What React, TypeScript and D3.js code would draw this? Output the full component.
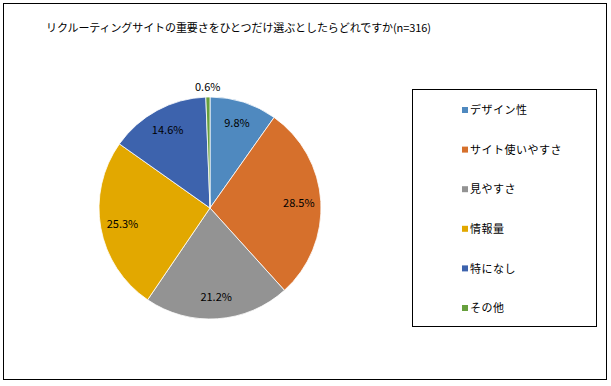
import React, { useEffect, useRef } from "react";
import * as d3 from "d3";

const categories = ["デザイン性", "サイト使いやすさ", "見やすさ", "情報量", "特になし", "その他"];
const values = [9.8, 28.5, 21.2, 25.3, 14.6, 0.6];
const colors = ["#4F89BF", "#D6702C", "#939393", "#E2A800", "#3D63AD", "#67A03D"];
const title = "リクルーティングサイトの重要さをひとつだけ選ぶとしたらどれですか(n=316)";

const width = 611;
const height = 386;

const App = () => {
  const svgRef = useRef(null);

  useEffect(() => {
    const svg = d3.select(svgRef.current);
    svg.selectAll("*").remove();
    const font = "'Noto Sans CJK JP', 'Noto Sans', sans-serif";

    // outer frame
    svg
      .append("rect")
      .attr("x", 3.5)
      .attr("y", 3.5)
      .attr("width", 603)
      .attr("height", 376)
      .attr("fill", "#fff")
      .attr("stroke", "#000")
      .attr("stroke-width", 1);

    svg
      .append("text")
      .attr("x", 46)
      .attr("y", 32)
      .attr("font-family", font)
      .attr("font-size", 11)
      .attr("textLength", 385)
      .attr("fill", "#000")
      .text(title);

    const cx = 210;
    const cy = 208;
    const r = 111;

    const pie = d3.pie<number>().sort(null).value((d) => d);
    const arcs = pie(values);
    const arc = d3.arc<d3.PieArcDatum<number>>().innerRadius(0).outerRadius(r);
    const labelArc = d3.arc<d3.PieArcDatum<number>>().innerRadius(89).outerRadius(89);
    const outerLabel = d3.arc<d3.PieArcDatum<number>>().innerRadius(121).outerRadius(121);

    const g = svg.append("g").attr("transform", `translate(${cx},${cy})`);
    g.selectAll("path")
      .data(arcs)
      .join("path")
      .attr("d", arc)
      .attr("fill", (_, i) => colors[i])
      .attr("stroke", "#fff")
      .attr("stroke-width", 0.8);

    g.selectAll("text")
      .data(arcs)
      .join("text")
      .attr("transform", (d) => {
        const p = d.data < 2 ? outerLabel.centroid(d) : labelArc.centroid(d);
        return `translate(${p[0]},${p[1]})`;
      })
      .attr("text-anchor", "middle")
      .attr("dy", "0.35em")
      .attr("font-family", font)
      .attr("font-size", 11)
      .attr("fill", "#000")
      .text((d) => `${d.data.toFixed(1)}%`);

    // legend
    svg
      .append("rect")
      .attr("x", 412.5)
      .attr("y", 89.5)
      .attr("width", 184)
      .attr("height", 237)
      .attr("fill", "#fff")
      .attr("stroke", "#000")
      .attr("stroke-width", 1);

    const ly = d3.scalePoint<string>().domain(categories).range([110, 308]);
    const leg = svg
      .append("g")
      .selectAll("g")
      .data(categories)
      .join("g")
      .attr("transform", (d) => `translate(462,${ly(d)})`);
    leg
      .append("rect")
      .attr("x", 0)
      .attr("y", -3)
      .attr("width", 6)
      .attr("height", 6)
      .attr("fill", (_, i) => colors[i]);
    leg
      .append("text")
      .attr("x", 8)
      .attr("dy", "0.38em")
      .attr("font-family", font)
      .attr("font-size", 11)
      .attr("letter-spacing", 0.5)
      .attr("fill", "#000")
      .text((d) => d);
  }, []);

  return <svg ref={svgRef} width={width} height={height} style={{ position: "absolute", left: 0, top: 0 }} />;
};

export default App;
